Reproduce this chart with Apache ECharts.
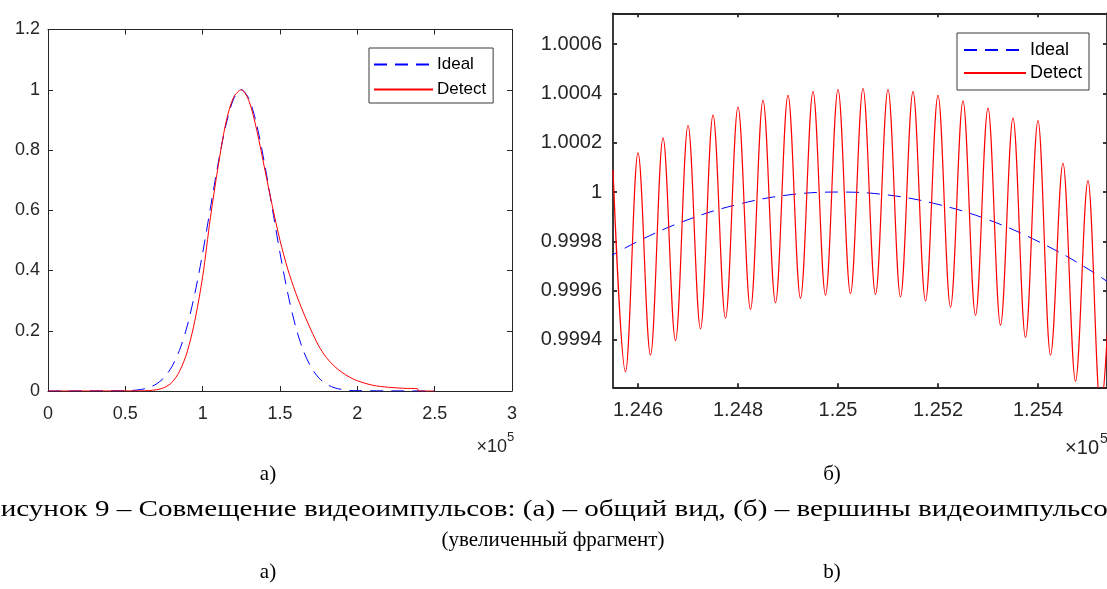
<!DOCTYPE html>
<html><head><meta charset="utf-8">
<script src="https://cdn.jsdelivr.net/npm/echarts@6/dist/echarts.min.js"></script>
<style>html,body{margin:0;padding:0;background:#fff;}#c{width:1107px;height:589px;}</style>
</head><body><div id="c"></div>
<script>
// ---- panel (a): overview ----
const overviewIdealX = [0, 50000, 55000, 60000, 65000, 70000, 75000, 80000, 85000, 90000, 95000, 100000, 105000, 110000, 115000, 120000, 125000, 130000, 135000, 140000, 145000, 150000, 155000, 160000, 165000, 170000, 175000, 180000, 185000, 190000, 195000, 200000, 250000];
const overviewIdealY = [0, 0.001, 0.002, 0.005, 0.011, 0.023, 0.044, 0.080, 0.135, 0.216, 0.325, 0.458, 0.607, 0.755, 0.882, 0.969, 1.0, 0.969, 0.882, 0.755, 0.607, 0.458, 0.325, 0.216, 0.135, 0.080, 0.044, 0.023, 0.011, 0.005, 0.002, 0.001, 0];
const overviewDetectX = [0, 60000, 65000, 70000, 75000, 80000, 85000, 90000, 95000, 100000, 105000, 110000, 115000, 120000, 125000, 130000, 135000, 140000, 145000, 150000, 155000, 160000, 165000, 170000, 175000, 180000, 185000, 190000, 195000, 200000, 210000, 220000, 230000, 239000, 239500, 250000];
const overviewDetectY = [0, 0.0005, 0.0015, 0.004, 0.011, 0.028, 0.065, 0.13, 0.235, 0.38, 0.575, 0.745, 0.89, 0.975, 1.0, 0.962, 0.865, 0.74, 0.615, 0.5, 0.405, 0.328, 0.262, 0.203, 0.15, 0.111, 0.083, 0.062, 0.046, 0.034, 0.019, 0.0125, 0.009, 0.0075, 0, 0];

// ---- panel (б): zoomed top ----
const zoomIdealX = [124500, 124600, 124700, 124800, 124900, 125000, 125100, 125200, 125300, 125400, 125500, 125600];
const zoomIdealY = [0.999688, 0.9998, 0.999888, 0.99995, 0.999988, 1.0, 0.999988, 0.99995, 0.999888, 0.9998, 0.999688, 0.99955];
const zoomDetectX = [124550, 124575, 124600, 124625, 124650, 124675, 124700, 124725, 124750, 124775, 124800, 124825, 124850, 124875, 124900, 124925, 124950, 124975, 125000, 125025, 125050, 125075, 125100, 125125, 125150, 125175, 125200, 125225, 125250, 125275, 125300, 125325, 125350, 125375, 125400, 125425, 125450, 125475, 125500, 125525, 125550];
const zoomDetectY = [1.00009, 0.999271, 1.000159, 0.999339, 1.00022, 0.999397, 1.00027, 0.999445, 1.000312, 0.999488, 1.000345, 0.999524, 1.000372, 0.999551, 1.000392, 0.999569, 1.000407, 0.999582, 1.000416, 0.999588, 1.00042, 0.999585, 1.000416, 0.999575, 1.000407, 0.999558, 1.000392, 0.999533, 1.00037, 0.9995, 1.00034, 0.99946, 1.0003, 0.99941, 1.00029, 0.999339, 1.000116, 0.999233, 1.000046, 0.99912, 0.9999];

// tick values
const zoomXTicks = [124600, 124800, 125000, 125200, 125400];
const zoomYTicks = [0.9994, 0.9996, 0.9998, 1.0, 1.0002, 1.0004, 1.0006];

const seriesNames = ['Ideal', 'Detect'];
const captionA = 'а)';
const captionB = 'б)';
const captionLine1 = 'Рисунок 9 – Совмещение видеоимпульсов: (а) – общий вид, (б) – вершины видеоимпульсов';
const captionLine2 = '(увеличенный фрагмент)';
const captionA2 = 'а)';
const captionB2 = 'b)';

const pairs = (xs, ys) => xs.map((x, i) => [x, ys[i]]);
const INK = '#262626';
const SANS = '"Liberation Sans", Arial, sans-serif';
const SERIF = '"Liberation Serif", "Times New Roman", serif';

// layout helper: stretch the long caption line to the width it occupies in the picture
const line1Font = '24px ' + SERIF;
const meas = document.createElement('canvas').getContext('2d');
meas.font = line1Font;
const line1Scale = 1137 / meas.measureText(captionLine1).width;

const chart = echarts.init(document.getElementById('c'), null, {renderer: 'canvas'});

function axisCommon(w, fs, showLabel) {
  return {
    axisLine: {show: true, onZero: false, lineStyle: {color: INK, width: w}},
    axisTick: {show: true, inside: true, length: 5, lineStyle: {color: INK, width: w}},
    splitLine: {show: false},
    axisLabel: {show: showLabel, color: INK, fontFamily: SANS, fontSize: fs}
  };
}
function mk(base, extra) {
  const o = JSON.parse(JSON.stringify(base));
  for (const k in extra) {
    if (typeof extra[k] === 'object' && extra[k] !== null && !Array.isArray(extra[k]) && o[k]) Object.assign(o[k], extra[k]);
    else o[k] = extra[k];
  }
  return o;
}

const lx = axisCommon(1, 18, true);
const rx = axisCommon(1.8, 20, true);

const xAxes = [
  mk(lx, {type: 'value', gridIndex: 0, position: 'bottom', min: 0, max: 300000, interval: 50000, axisLabel: {margin: 14}}),
  mk(lx, {type: 'value', gridIndex: 0, position: 'top', min: 0, max: 300000, interval: 50000, axisLabel: {show: false}}),
  mk(rx, {type: 'value', gridIndex: 1, position: 'bottom', min: 124550, max: 125538,
    axisTick: {customValues: zoomXTicks, length: 4}, axisLabel: {margin: 13, customValues: zoomXTicks}}),
  mk(rx, {type: 'value', gridIndex: 1, position: 'top', min: 124550, max: 125538,
    axisTick: {customValues: zoomXTicks, length: 4}, axisLabel: {show: false}})
];
xAxes[0].axisLabel.formatter = v => String(v / 1e5);
xAxes[2].axisLabel.formatter = v => String(+(v / 1e5).toFixed(4));

const yAxes = [
  mk(lx, {type: 'value', gridIndex: 0, position: 'left', min: 0, max: 1.2, interval: 0.2, axisLabel: {margin: 8}}),
  mk(lx, {type: 'value', gridIndex: 0, position: 'right', min: 0, max: 1.2, interval: 0.2, axisLabel: {show: false}}),
  mk(rx, {type: 'value', gridIndex: 1, position: 'left', min: 0.999208, max: 1.000725,
    axisTick: {customValues: zoomYTicks, length: 4}, axisLabel: {margin: 11, customValues: zoomYTicks}}),
  mk(rx, {type: 'value', gridIndex: 1, position: 'right', min: 0.999208, max: 1.000725,
    axisTick: {customValues: zoomYTicks, length: 4}, axisLabel: {show: false}})
];
yAxes[0].axisLabel.formatter = v => String(+v.toFixed(1));
yAxes[2].axisLabel.formatter = v => String(+v.toFixed(4));

const dash = [13, 8];
const hiddenSymbol = {color: 'rgba(0,0,0,0)', borderWidth: 0, opacity: 0};

const option = {
  animation: false,
  backgroundColor: '#ffffff',
  grid: [
    {left: 48, top: 29.5, width: 464, height: 361.5, containLabel: false},
    {left: 613, top: 13.3, width: 497, height: 374, containLabel: false}
  ],
  xAxis: xAxes,
  yAxis: yAxes,
  legend: [
    {left: 369, top: 48, orient: 'vertical', selectedMode: false, data: seriesNames,
      itemWidth: 59, itemHeight: 17, itemGap: 8, padding: [8, 7, 5, 4], itemStyle: hiddenSymbol,
      borderColor: '#3a3a3a', borderWidth: 1, backgroundColor: '#fff',
      textStyle: {fontFamily: SANS, fontSize: 17, color: '#000', padding: [0, 0, 0, -1]}},
    {left: 957, top: 33, orient: 'vertical', selectedMode: false, data: seriesNames,
      itemWidth: 62, itemHeight: 18, itemGap: 5, padding: [8, 7, 8, 6], itemStyle: hiddenSymbol,
      borderColor: '#3a3a3a', borderWidth: 1, backgroundColor: '#fff',
      textStyle: {fontFamily: SANS, fontSize: 18, color: '#000', padding: [0, 0, 0, -1]}}
  ],
  series: [
    {name: 'Ideal', type: 'line', xAxisIndex: 0, yAxisIndex: 0, data: pairs(overviewIdealX, overviewIdealY),
      symbol: 'none', smooth: 0.3, lineStyle: {color: '#0000ff', width: 1, type: dash}, itemStyle: {color: '#0000ff'}},
    {name: 'Detect', type: 'line', xAxisIndex: 0, yAxisIndex: 0, data: pairs(overviewDetectX, overviewDetectY),
      symbol: 'none', smooth: 0.3, lineStyle: {color: '#ff0000', width: 1}, itemStyle: {color: '#ff0000'}},
    {name: 'Ideal', type: 'line', xAxisIndex: 2, yAxisIndex: 2, data: pairs(zoomIdealX, zoomIdealY),
      symbol: 'none', smooth: 0.4, clip: true, lineStyle: {color: '#0000ff', width: 1, type: dash}, itemStyle: {color: '#0000ff'}},
    {name: 'Detect', type: 'line', xAxisIndex: 2, yAxisIndex: 2, data: pairs(zoomDetectX, zoomDetectY),
      symbol: 'none', smooth: 0.36, smoothMonotone: 'x', clip: true, lineStyle: {color: '#ff0000', width: 1.2}, itemStyle: {color: '#ff0000'}}
  ],
  graphic: [
    {type: 'text', x: 507, y: 447, style: {text: '×10', font: '18px ' + SANS, fill: INK, align: 'right', verticalAlign: 'middle'}},
    {type: 'text', x: 507, y: 437, style: {text: '5', font: '13px ' + SANS, fill: INK, align: 'left', verticalAlign: 'middle'}},
    {type: 'text', x: 1099, y: 448, style: {text: '×10', font: '20px ' + SANS, fill: INK, align: 'right', verticalAlign: 'middle'}},
    {type: 'text', x: 1100, y: 439, style: {text: '5', font: '14px ' + SANS, fill: INK, align: 'left', verticalAlign: 'middle'}},
    {type: 'text', x: 268, y: 474, style: {text: captionA, font: '21px ' + SERIF, fill: '#000', align: 'center', verticalAlign: 'middle'}},
    {type: 'text', x: 832, y: 474, style: {text: captionB, font: '21px ' + SERIF, fill: '#000', align: 'center', verticalAlign: 'middle'}},
    {type: 'text', x: 553, y: 510, scaleX: line1Scale, style: {text: captionLine1, font: line1Font, fill: '#000', align: 'center', verticalAlign: 'middle'}},
    {type: 'text', x: 553, y: 540, style: {text: captionLine2, font: '21px ' + SERIF, fill: '#000', align: 'center', verticalAlign: 'middle'}},
    {type: 'text', x: 268, y: 572, style: {text: captionA2, font: '21px ' + SERIF, fill: '#000', align: 'center', verticalAlign: 'middle'}},
    {type: 'text', x: 832, y: 572, style: {text: captionB2, font: '21px ' + SERIF, fill: '#000', align: 'center', verticalAlign: 'middle'}}
  ]
};
chart.setOption(option);
</script>
</body></html>
